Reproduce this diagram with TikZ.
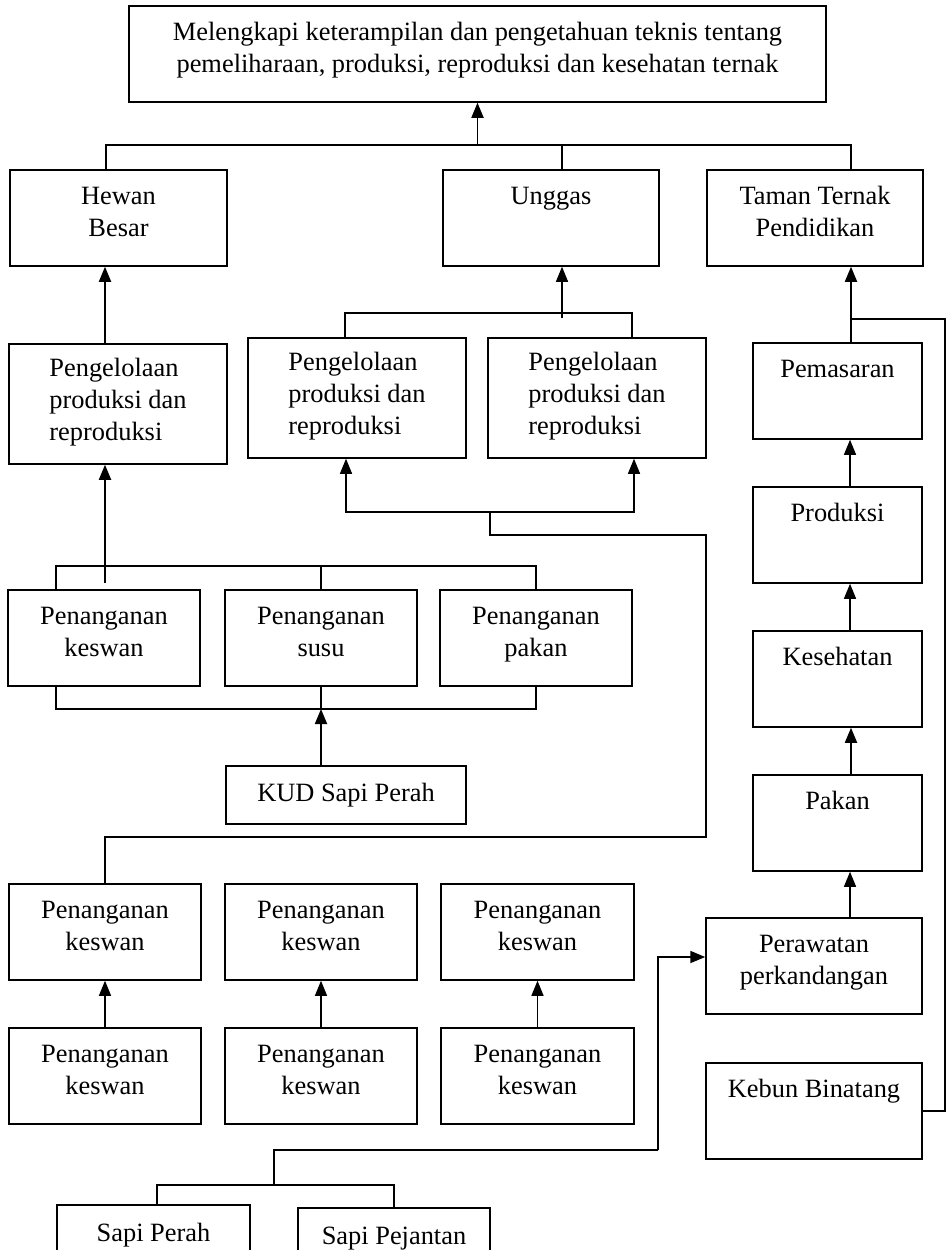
\documentclass[tikz,border=0pt]{standalone}
\usepackage{fontspec}
\setmainfont{Liberation Serif}
\usetikzlibrary{arrows.meta}
\begin{document}
\begin{tikzpicture}[x=1pt,y=-1pt,
 box/.style={draw, line width=1.5pt, align=center, inner sep=0pt, font=\fontsize{26.4}{32}\selectfont},
 two/.style={execute at begin node={\rule{0pt}{22.4pt}}, execute at end node={\rule[-12.4pt]{0pt}{12.4pt}}},
 one/.style={execute at begin node={\strut}, execute at end node={\strut}},
 three/.style={execute at begin node={\strut}, execute at end node={\rule[-4pt]{0pt}{4pt}}},
 wbox/.style={box, two, minimum width=216, minimum height=96},
 sbox/.style={box, two, minimum width=169, minimum height=96},
 pbox/.style={box, two, minimum width=192, minimum height=96},
 gbox/.style={box, three, align=left, minimum width=218, minimum height=120},
 thk/.style={line width=1.8pt},
 thn/.style={line width=1.2pt},
 arr/.style={-{Triangle[length=15pt,width=12pt]}},
]
\useasboundingbox (0,0) rectangle (947,1250);
\clip (0,0) rectangle (947,1250);

% nodes
\node[box, two, minimum width=697, minimum height=96] (top) at (477.5,54)
  {Melengkapi keterampilan dan pengetahuan teknis tentang\\pemeliharaan, produksi, reproduksi dan kesehatan ternak};
\node[wbox, minimum width=217] (hewan) at (118.5,218) {Hewan\\Besar};
\node[wbox] (unggas) at (551,218) {Unggas\\\mbox{}};
\node[wbox] (taman) at (815,218) {Taman Ternak\\Pendidikan};

\node[gbox] (peng1) at (118,404) {Pengelolaan\\produksi dan\\reproduksi};
\node[gbox] (peng2) at (357,398) {Pengelolaan\\produksi dan\\reproduksi};
\node[gbox] (peng3) at (597,398) {Pengelolaan\\produksi dan\\reproduksi};

\node[sbox] (pemasaran) at (837.5,391) {Pemasaran\\\mbox{}};
\node[sbox] (produksi) at (837.5,535) {Produksi\\\mbox{}};
\node[sbox] (kesehatan) at (837.5,679) {Kesehatan\\\mbox{}};
\node[sbox] (pakan) at (837.5,823) {Pakan\\\mbox{}};

\node[pbox] (pena1) at (104,638) {Penanganan\\keswan};
\node[pbox] (pena2) at (321,638) {Penanganan\\susu};
\node[pbox] (pena3) at (536,638) {Penanganan\\pakan};

\node[box, one, minimum width=240, minimum height=58] (kud) at (346,795) {KUD Sapi Perah};

\node[pbox] (r2a) at (105,932) {Penanganan\\keswan};
\node[pbox] (r2b) at (321,932) {Penanganan\\keswan};
\node[pbox, minimum width=193] (r2c) at (537.5,932) {Penanganan\\keswan};

\node[wbox] (perawatan) at (814,966) {Perawatan\\perkandangan};

\node[pbox] (r3a) at (105,1076) {Penanganan\\keswan};
\node[pbox] (r3b) at (321,1076) {Penanganan\\keswan};
\node[pbox, minimum width=193] (r3c) at (537.5,1076) {Penanganan\\keswan};

\node[wbox] (kebun) at (814,1111) {Kebun Binatang\\\mbox{}};

\node[box, one, minimum width=193, minimum height=60] (sapiperah) at (153.5,1235) {Sapi Perah};
\node[box, one, minimum width=192, minimum height=60] (sapipejantan) at (394,1238) {Sapi Pejantan};

% top level connectors
\coordinate (hN) at ([xshift=-12.5]hewan.north);
\coordinate (uN) at ([xshift=11]unggas.north);
\coordinate (tN) at ([xshift=36]taman.north);
\coordinate (tbar) at (477.5,145);
\draw[thk] (hN) |- (tbar) -| (tN);
\draw[thk] (uN) -- (uN |- tbar);
\draw[thk,arr] (tbar) -- (top.south);

% hewan <- peng1
\coordinate (p1N) at ([xshift=-13]peng1.north);
\draw[thk,arr] (p1N) -- (p1N |- hewan.south);

% unggas <- peng2/peng3
\coordinate (ubar) at (562,313);
\coordinate (ubot) at (562,318);
\coordinate (p2N) at ([xshift=-12]peng2.north);
\coordinate (p3N) at ([xshift=35]peng3.north);
\draw[thk] (p2N) |- (ubar) -| (p3N);
\draw[thn,arr] (ubot) -- (ubot |- unggas.south);

% peng2/peng3 <- long route from r2a
\coordinate (mbar) at (490,512);
\coordinate (p2S) at ([xshift=-11]peng2.south);
\coordinate (p3S) at ([xshift=37]peng3.south);
\draw[thn,arr] (mbar) -| (p2S);
\draw[thn,arr] (mbar) -| (p3S);
\coordinate (m1) at (706,535);
\coordinate (m2) at (706,837);
\draw[thn] (mbar) |- (m1) -- (m2) -| (r2a.north);

% row 1 top bar and arrow to peng1
\coordinate (b1) at (321,566);
\coordinate (q1N) at ([xshift=-48]pena1.north);
\draw[thk] (q1N) |- (b1) -| (pena3.north);
\draw[thk] (pena2.north) -- (b1);
\coordinate (a1) at (105,583);
\coordinate (p1S) at ([xshift=-13]peng1.south);
\draw[thk,arr] (a1) -- (p1S);

% row 1 bottom bar and KUD
\coordinate (b2) at (321,709);
\coordinate (q1S) at ([xshift=-48]pena1.south);
\draw[thk] (q1S) |- (b2) -| (pena3.south);
\draw[thk] (pena2.south) -- (b2);
\coordinate (kN) at ([xshift=-25]kud.north);
\draw[thk,arr] (kN) -- (b2);

% row 3 -> row 2
\draw[thn,arr] (r3a.north) -- (r2a.south);
\draw[thn,arr] (r3b.north) -- (r2b.south);
\draw[thn,arr] (r3c.north) -- (r2c.south);

% right column
\coordinate (pmN) at ([xshift=13.5]pemasaran.north);
\draw[thk,arr] (pmN) -- (pmN |- taman.south);
\coordinate (kr) at (945,319);
\draw[thn] (pmN |- kr) -- (kr) |- (kebun.east);
\draw[thn,arr] ([xshift=12.5]produksi.north) -- ([xshift=12.5]pemasaran.south);
\draw[thn,arr] ([xshift=12.5]kesehatan.north) -- ([xshift=12.5]produksi.south);
\draw[thk,arr] ([xshift=13.5]pakan.north) -- ([xshift=13.5]kesehatan.south);
\draw[thn,arr] ([xshift=36]perawatan.north) -- ([xshift=12.5]pakan.south);

% perawatan input from sapi
\coordinate (s1) at (658,1150);
\coordinate (s2) at (274,1185);
\draw[thk,arr] (s1) |- ([yshift=9]perawatan.west);
\draw[thk] (s1) -| (s2);
\coordinate (spN) at ([xshift=3.5]sapiperah.north);
\draw[thk] (spN) |- (s2) -| (sapipejantan.north);
\end{tikzpicture}
\end{document}
